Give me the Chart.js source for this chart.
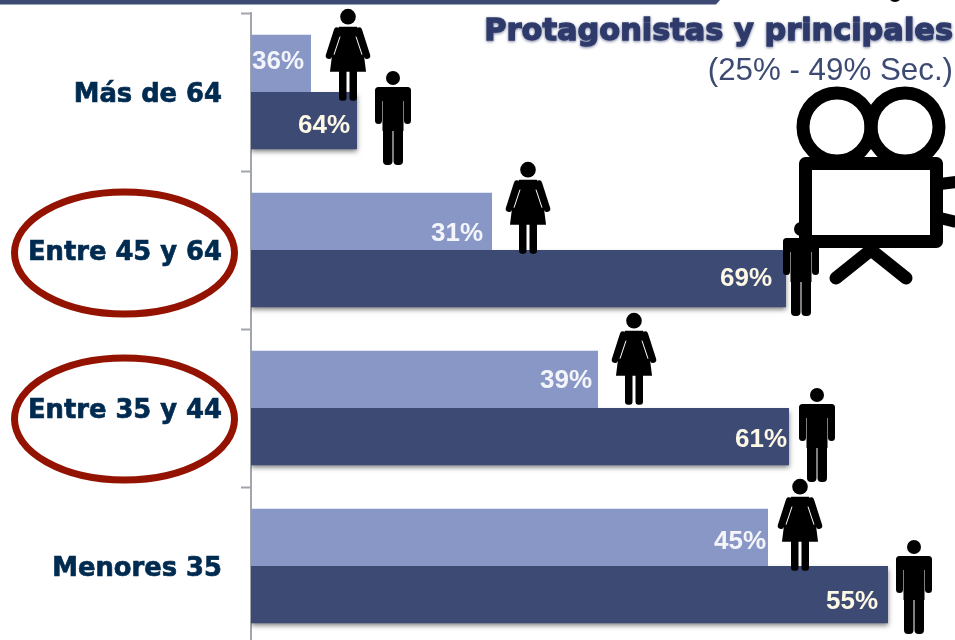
<!DOCTYPE html>
<html lang="es">
<head>
<meta charset="utf-8">
<title>Protagonistas y principales</title>
<style>
html,body{margin:0;padding:0;background:#fff;width:955px;height:640px;overflow:hidden}
canvas{display:block}
</style>
<script src="https://cdn.jsdelivr.net/npm/chart.js@4/dist/chart.umd.min.js"></script>
</head>
<body>
<canvas id="c" width="955" height="645"></canvas>
<script>
const categories = ['Más de 64', 'Entre 45 y 64', 'Entre 35 y 44', 'Menores 35'];
const mujeres = [60, 241, 347, 517];
const hombres = [106, 535, 538, 637];
const mujeresPct = ['36%', '31%', '39%', '45%'];
const hombresPct = ['64%', '69%', '61%', '55%'];
const tituloTexto = 'Protagonistas y principales';
const subtituloTexto = '(25% - 49% Sec.)';

// label placement relative to each bar's end and centre
const womanLabelDx = [-7, -9, -6, -2];
const womanLabelDy = [-1, 13, 2, 5];
const manLabelDx = [-7, -14, -2, -10];
const manLabelDy = [5, 0, 3, 7];
// icon placement relative to each bar's end and top
const womanDx = [37, 36, 36, 32];
const womanDy = [-26, -31, -38, -30];
const manDx = [36, 15, 28, 26];
const manDy = [-21, -28, -20, -26];
const circled = [1, 2];

function rr(ctx, x, y, w, h, r) { ctx.beginPath(); ctx.roundRect(x, y, w, h, r); ctx.fill(); }

function drawWoman(ctx, cx, top) {
  ctx.save();
  ctx.translate(cx, top);
  ctx.fillStyle = '#000';
  ctx.beginPath(); ctx.arc(0, 8, 7.8, 0, 7); ctx.fill();
  rr(ctx, -9, 58, 7.5, 34, 3); rr(ctx, 1.5, 58, 7.5, 34, 3);
  ctx.beginPath();
  ctx.moveTo(-9, 18); ctx.lineTo(9, 18); ctx.lineTo(14, 30); ctx.lineTo(18, 63);
  ctx.lineTo(-18, 63); ctx.lineTo(-14, 30); ctx.closePath(); ctx.fill();
  ctx.strokeStyle = '#000'; ctx.lineCap = 'round'; ctx.lineWidth = 6.5;
  ctx.beginPath(); ctx.moveTo(-11, 22); ctx.lineTo(-19, 47); ctx.stroke();
  ctx.beginPath(); ctx.moveTo(11, 22); ctx.lineTo(19, 47); ctx.stroke();
  ctx.strokeStyle = '#fff'; ctx.lineWidth = 1; ctx.lineCap = 'butt';
  ctx.beginPath(); ctx.moveTo(-8, 28); ctx.lineTo(-14, 46); ctx.stroke();
  ctx.beginPath(); ctx.moveTo(8, 28); ctx.lineTo(14, 46); ctx.stroke();
  ctx.restore();
}

function drawMan(ctx, cx, top) {
  ctx.save();
  ctx.translate(cx, top);
  ctx.fillStyle = '#000';
  ctx.beginPath(); ctx.arc(0, 7, 7, 0, 7); ctx.fill();
  rr(ctx, -18, 16, 36, 14, 5);
  rr(ctx, -18, 16, 7, 37, 3.5); rr(ctx, 11, 16, 7, 37, 3.5);
  ctx.fillRect(-10.5, 20, 21, 40);
  rr(ctx, -10, 50, 9.5, 44, 4); rr(ctx, 0.5, 50, 9.5, 44, 4);
  ctx.restore();
}

function drawCamera(ctx) {
  ctx.save();
  ctx.strokeStyle = '#000'; ctx.lineWidth = 13;
  ctx.beginPath(); ctx.arc(837, 127, 34, 0, 7); ctx.stroke();
  ctx.beginPath(); ctx.arc(905, 127, 34, 0, 7); ctx.stroke();
  ctx.fillStyle = '#fff';
  ctx.lineJoin = 'round';
  ctx.beginPath(); ctx.rect(805.5, 163.5, 131, 78); ctx.fill(); ctx.stroke();
  ctx.lineCap = 'round';
  ctx.beginPath(); ctx.moveTo(871, 250); ctx.lineTo(836, 278); ctx.stroke();
  ctx.beginPath(); ctx.moveTo(871, 250); ctx.lineTo(906, 278); ctx.stroke();
  ctx.lineCap = 'butt'; ctx.lineWidth = 12;
  ctx.beginPath(); ctx.moveTo(940, 184); ctx.lineTo(956, 182); ctx.stroke();
  ctx.beginPath(); ctx.moveTo(940, 218); ctx.lineTo(956, 222); ctx.stroke();
  ctx.restore();
}

const decor = {
  id: 'decor',
  beforeDraw(chart) {
    chart.scales.y.getLabelItems().forEach(it => { it.options.translation[1] += 3; });
  },
  beforeDatasetDraw(chart, args) {
    if (args.index === 1) {
      const ctx = chart.ctx;
      ctx.save();
      ctx.shadowColor = 'rgba(0,0,0,0.5)';
      ctx.shadowBlur = 5;
      ctx.shadowOffsetY = 3;
    }
  },
  afterDatasetDraw(chart, args) {
    if (args.index === 1) chart.ctx.restore();
  },
  afterDraw(chart) {
    const ctx = chart.ctx;
    const x = chart.scales.x;
    const m0 = chart.getDatasetMeta(0).data;
    const m1 = chart.getDatasetMeta(1).data;

    ctx.save();
    ctx.font = 'bold 26px "Liberation Sans"';
    ctx.textAlign = 'right';
    ctx.textBaseline = 'middle';
    m0.forEach((b, i) => {
      ctx.fillStyle = '#f4f5fb';
      ctx.fillText(mujeresPct[i], b.x + womanLabelDx[i], b.y + womanLabelDy[i]);
    });
    m1.forEach((b, i) => {
      ctx.fillStyle = '#fdf9e6';
      ctx.fillText(hombresPct[i], b.x + manLabelDx[i], b.y + manLabelDy[i]);
    });
    ctx.restore();

    drawCamera(ctx);
    m0.forEach((b, i) => drawWoman(ctx, x.getPixelForValue(mujeres[i]) + womanDx[i], b.y - b.height / 2 + womanDy[i]));
    m1.forEach((b, i) => drawMan(ctx, x.getPixelForValue(hombres[i]) + manDx[i], b.y - b.height / 2 + manDy[i]));

    ctx.save();
    ctx.fillStyle = '#3d4a73';
    ctx.beginPath(); ctx.moveTo(0, 0); ctx.lineTo(720, 0); ctx.lineTo(716, 4.5); ctx.lineTo(0, 4.5); ctx.closePath(); ctx.fill();
    ctx.fillStyle = '#000';
    ctx.beginPath(); ctx.arc(895, -5, 7, 0, 7); ctx.fill();
    ctx.restore();

    ctx.save();
    ctx.textAlign = 'right';
    ctx.textBaseline = 'alphabetic';
    ctx.font = 'bold 30.4px "DejaVu Sans"';
    ctx.shadowColor = 'rgba(47,59,107,0.55)';
    ctx.shadowBlur = 3;
    ctx.shadowOffsetY = 1;
    ctx.fillStyle = '#2f3b6b';
    ctx.strokeStyle = '#2f3b6b';
    ctx.lineWidth = 1.3;
    ctx.fillText(tituloTexto, 953, 40);
    ctx.strokeText(tituloTexto, 953, 40);
    ctx.shadowColor = 'transparent';
    ctx.font = '31.3px "Liberation Sans"';
    ctx.fillStyle = '#3d4a73';
    ctx.fillText(subtituloTexto, 953, 80);
    ctx.restore();

    ctx.save();
    ctx.strokeStyle = '#931200';
    ctx.lineWidth = 7;
    circled.forEach(i => {
      const yc = chart.scales.y.getPixelForValue(i);
      ctx.beginPath();
      ctx.ellipse(124.5, yc + (i === 1 ? 3 : 11), 110, 61, 0, 0, Math.PI * 2);
      ctx.stroke();
    });
    ctx.restore();
  }
};

new Chart(document.getElementById('c'), {
  type: 'bar',
  data: {
    labels: categories,
    datasets: [
      { label: 'Mujeres', data: mujeres, backgroundColor: '#8897c6', categoryPercentage: 0.726, barPercentage: 1 },
      { label: 'Hombres', data: hombres, backgroundColor: '#3d4a73', categoryPercentage: 0.726, barPercentage: 1 }
    ]
  },
  options: {
    indexAxis: 'y',
    responsive: false,
    animation: false,
    layout: { padding: { top: 13, left: 0, right: 0, bottom: 0 } },
    plugins: { legend: { display: false }, tooltip: { enabled: false }, title: { display: false } },
    scales: {
      x: { display: false, min: 0, max: 704 },
      y: {
        afterFit(s) { s.width = 251; s.paddingTop = 0; s.paddingBottom = 0; },
        border: { color: '#a3a5ad', width: 2 },
        grid: { drawOnChartArea: false, offset: true, color: '#a3a5ad', tickLength: 10, tickWidth: 2 },
        ticks: {
          color: '#002b50',
          textStrokeColor: '#002b50',
          textStrokeWidth: 0.7,
          padding: 19,
          font: { family: '"DejaVu Sans"', weight: 'bold', size: 25.8 }
        }
      }
    }
  },
  plugins: [decor]
});
</script>
</body>
</html>
